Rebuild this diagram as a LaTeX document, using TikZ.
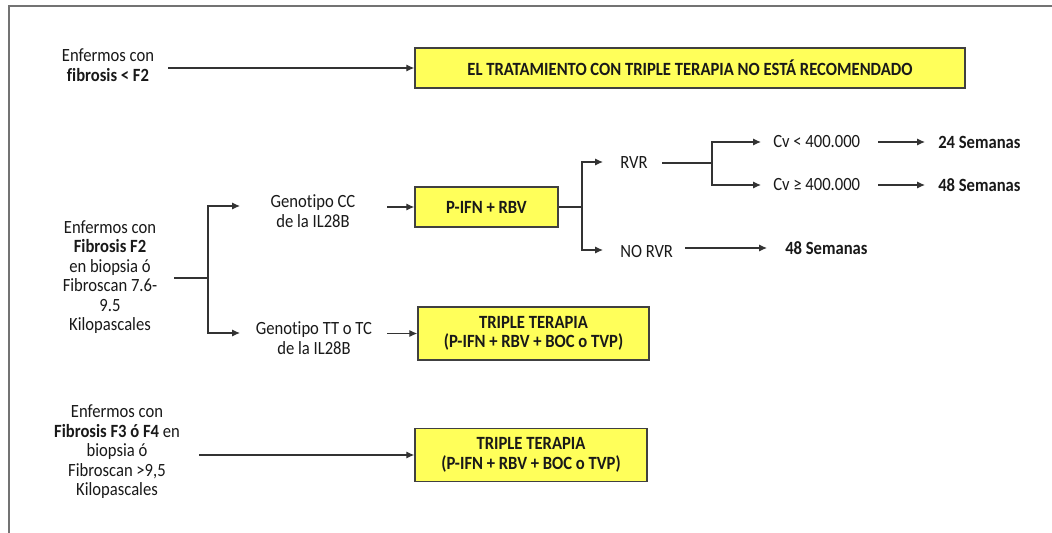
\documentclass[tikz,border=0pt]{standalone}
\usepackage{fontspec}
\setmainfont[FakeStretch=0.89,Ligatures=NoCommon]{Carlito}
\usetikzlibrary{arrows.meta}
\definecolor{boxyellow}{RGB}{255,255,90}
\definecolor{inkc}{RGB}{25,25,25}
\begin{document}
\fontsize{14}{14.6}\selectfont
\begin{tikzpicture}[x=0.75pt,y=-0.75pt,
  every node/.style={inner sep=0pt,text=inkc},
  lbl/.style={align=center},
  box/.style={draw=black!75,line width=1.1pt,fill=boxyellow,align=center,font=\bfseries},
  conn/.style={line width=0.95pt,draw=black!80},
  arr/.style={conn,-{Latex[length=6pt,width=5.5pt]}}]
\useasboundingbox (0,0) rectangle (1052,532);
\fill[white] (0,0) rectangle (1052,532);
\draw[black!55,line width=1.5pt] (9,545) -- (9,6) -- (1065,6);

% row 1
\node[lbl] (t1) at (108,65) {Enfermos con\\\textbf{fibrosis < F2}};
\node[box,minimum width=412.5pt,minimum height=30pt] (b1) at (690,68)
  {EL TRATAMIENTO CON TRIPLE TERAPIA NO ESTÁ RECOMENDADO};
\coordinate (t1o) at (168,68);
\draw[arr] (t1o) -- (b1.west);

% row 2
\node[lbl] (t2) at (110,277) {Enfermos con\\\textbf{Fibrosis F2}\\en biopsia ó\\Fibroscan 7.6-\\9.5\\Kilopascales};
\coordinate (t2o) at (174,278);
\coordinate (s1) at (208,278);
\node[lbl] (g1) at (313,211) {Genotipo CC\\de la IL28B};
\node[lbl] (g2) at (314,338) {Genotipo TT o TC\\de la IL28B};
\coordinate (g1i) at (240,206);
\coordinate (g2i) at (240,333);
\coordinate (g1o) at (387,207);
\coordinate (g2o) at (387,333.5);
\node[box,minimum width=107.25pt,minimum height=30pt] (pb) at (486.5,207) {P-IFN + RBV};
\node[box,minimum width=173.25pt,minimum height=39.75pt] (tb1) at (533.5,333.5)
  {TRIPLE TERAPIA\\(P-IFN + RBV + BOC o TVP)};
\draw[conn] (t2o) -- (s1);
\draw[arr] (s1) |- (g1i);
\draw[arr] (s1) |- (g2i);
\draw[arr] (g1o) -- (pb.west);
\draw[arr] (g2o) -- (tb1.west);

\coordinate (s2) at (582,207);
\node[anchor=west] (rvr) at (620,163) {RVR};
\node[anchor=west] (norvr) at (620,252) {NO RVR};
\coordinate (rvri) at (603,162);
\coordinate (norvri) at (603,250);
\draw[conn] (pb.east) -- (s2);
\draw[arr] (s2) |- (rvri);
\draw[arr] (s2) |- (norvri);

\coordinate (rvro) at (662,163);
\coordinate (s3) at (712,163);
\coordinate (c1i) at (761,142);
\coordinate (c2i) at (761,185);
\draw[conn] (rvro) -- (s3);
\draw[arr] (s3) |- (c1i);
\draw[arr] (s3) |- (c2i);
\node[anchor=west] (c1) at (773,142) {Cv < 400.000};
\node[anchor=west] (c2) at (773,185) {Cv ≥ 400.000};
\node[anchor=west,font=\bfseries] (w1) at (938,142) {24 Semanas};
\node[anchor=west,font=\bfseries] (w2) at (938,185) {48 Semanas};
\coordinate (c1o) at (878,142); \coordinate (w1i) at (925,142);
\coordinate (c2o) at (878,185); \coordinate (w2i) at (925,185);
\draw[arr] (c1o) -- (w1i);
\draw[arr] (c2o) -- (w2i);

\coordinate (nro) at (685,248); \coordinate (w3i) at (767,248);
\node[anchor=west,font=\bfseries] (w3) at (785,248) {48 Semanas};
\draw[arr] (nro) -- (w3i);

% row 3
\node[lbl] (t3) at (117,452) {Enfermos con\\\textbf{Fibrosis F3 ó F4} en\\biopsia ó\\Fibroscan >9,5\\Kilopascales};
\node[box,minimum width=174pt,minimum height=39.75pt] (tb2) at (531,455)
  {TRIPLE TERAPIA\\(P-IFN + RBV + BOC o TVP)};
\coordinate (t3o) at (199,455);
\draw[arr] (t3o) -- (tb2.west);
\end{tikzpicture}
\end{document}
